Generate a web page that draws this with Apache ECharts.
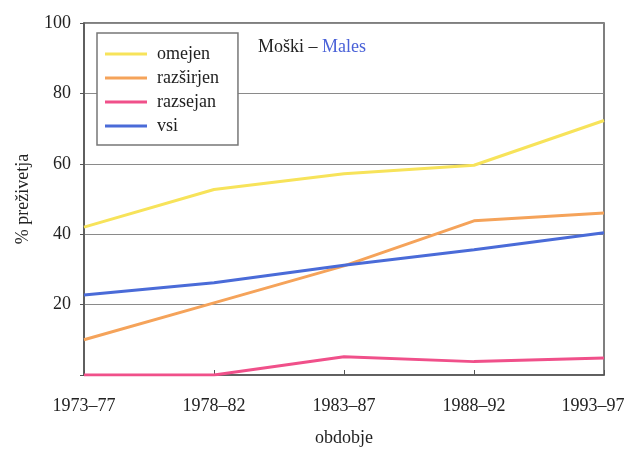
<!DOCTYPE html>
<html>
<head>
<meta charset="utf-8">
<script src="https://cdn.jsdelivr.net/npm/echarts@6/dist/echarts.min.js"></script>
<style>
  html, body { margin: 0; padding: 0; background: #fff; }
  #chart { width: 628px; height: 450px; }
</style>
</head>
<body>
<div id="chart"></div>
<script>
// Survival (%) of males by period and stage
const periods = ['1973–77', '1978–82', '1983–87', '1988–92', '1993–97'];
const omejen = [42, 52.7, 57.2, 59.6, 72.3];
const razsirjen = [10, 20.5, 31, 43.8, 46];
const razsejan = [0, 0, 5.2, 3.8, 4.8];
const vsi = [22.7, 26.2, 31.2, 35.6, 40.4];
const yTicks = [0, 20, 40, 60, 80, 100];

const seriesNames = ['omejen', 'razširjen', 'razsejan', 'vsi'];
const seriesData = [omejen, razsirjen, razsejan, vsi];
const seriesColors = ['#f7e35a', '#f5a35a', '#f0508a', '#4a6bd8'];

const serif = '"Liberation Serif", "DejaVu Serif", serif';

const chart = echarts.init(document.getElementById('chart'), null, { renderer: 'canvas' });

chart.setOption({
  animation: false,
  backgroundColor: '#ffffff',
  textStyle: { fontFamily: serif },
  title: {
    text: '{a|Moški – }{b|Males}',
    left: 253,
    top: 33,
    textStyle: {
      fontWeight: 'normal',
      rich: {
        a: { fontFamily: serif, fontSize: 18, fontWeight: 'normal', color: '#222' },
        b: { fontFamily: serif, fontSize: 18, fontWeight: 'normal', color: '#4a62d8' }
      }
    }
  },
  legend: {
    orient: 'vertical',
    left: 97,
    top: 33,
    padding: [12, 19, 10, 8],
    itemGap: 6,
    itemWidth: 42,
    itemHeight: 3,
    icon: 'rect',
    borderColor: '#777',
    borderWidth: 1.5,
    backgroundColor: '#fff',
    textStyle: { fontFamily: serif, fontSize: 18, color: '#222', padding: [0, 0, 0, 5] },
    data: seriesNames
  },
  grid: {
    left: 84,
    right: 24,
    top: 23,
    bottom: 75,
    outerBoundsMode: 'none',
    containLabel: false,
    show: true,
    borderColor: '#555',
    borderWidth: 1.5,
    backgroundColor: 'transparent'
  },
  xAxis: {
    type: 'category',
    data: periods,
    boundaryGap: false,
    name: 'obdobje',
    nameLocation: 'middle',
    nameGap: 54,
    nameTextStyle: { fontFamily: serif, fontSize: 18, color: '#222' },
    axisLine: { lineStyle: { color: '#555', width: 1.5 } },
    axisTick: { inside: true, length: 5, interval: 0, lineStyle: { color: '#555' } },
    axisLabel: {
      interval: 0,
      margin: 22,
      fontFamily: serif,
      fontSize: 18,
      color: '#222',
      formatter: function (v, i) {
        return i === periods.length - 1 ? '{last|' + v + '}' : v;
      },
      rich: {
        last: { fontFamily: serif, fontSize: 18, color: '#222', padding: [0, 22, 0, 0] }
      }
    },
    splitLine: { show: false }
  },
  yAxis: {
    type: 'value',
    min: yTicks[0],
    max: yTicks[yTicks.length - 1],
    interval: 20,
    name: '% preživetja',
    nameLocation: 'middle',
    nameGap: 52,
    nameTextStyle: { fontFamily: serif, fontSize: 18, color: '#222' },
    axisLine: { show: true, lineStyle: { color: '#555', width: 1.5 } },
    axisTick: { show: true, length: 4, lineStyle: { color: '#555' } },
    axisLabel: {
      margin: 13,
      fontFamily: serif,
      fontSize: 18,
      color: '#222',
      formatter: function (v) { return v === 0 ? '' : String(v); }
    },
    splitLine: { show: true, lineStyle: { color: '#8a8a8a', width: 1 } }
  },
  series: seriesNames.map(function (name, i) {
    return {
      name: name,
      type: 'line',
      data: seriesData[i],
      symbol: 'none',
      color: seriesColors[i],
      lineStyle: { color: seriesColors[i], width: 3 },
      z: 3 + i
    };
  })
});
</script>
</body>
</html>
